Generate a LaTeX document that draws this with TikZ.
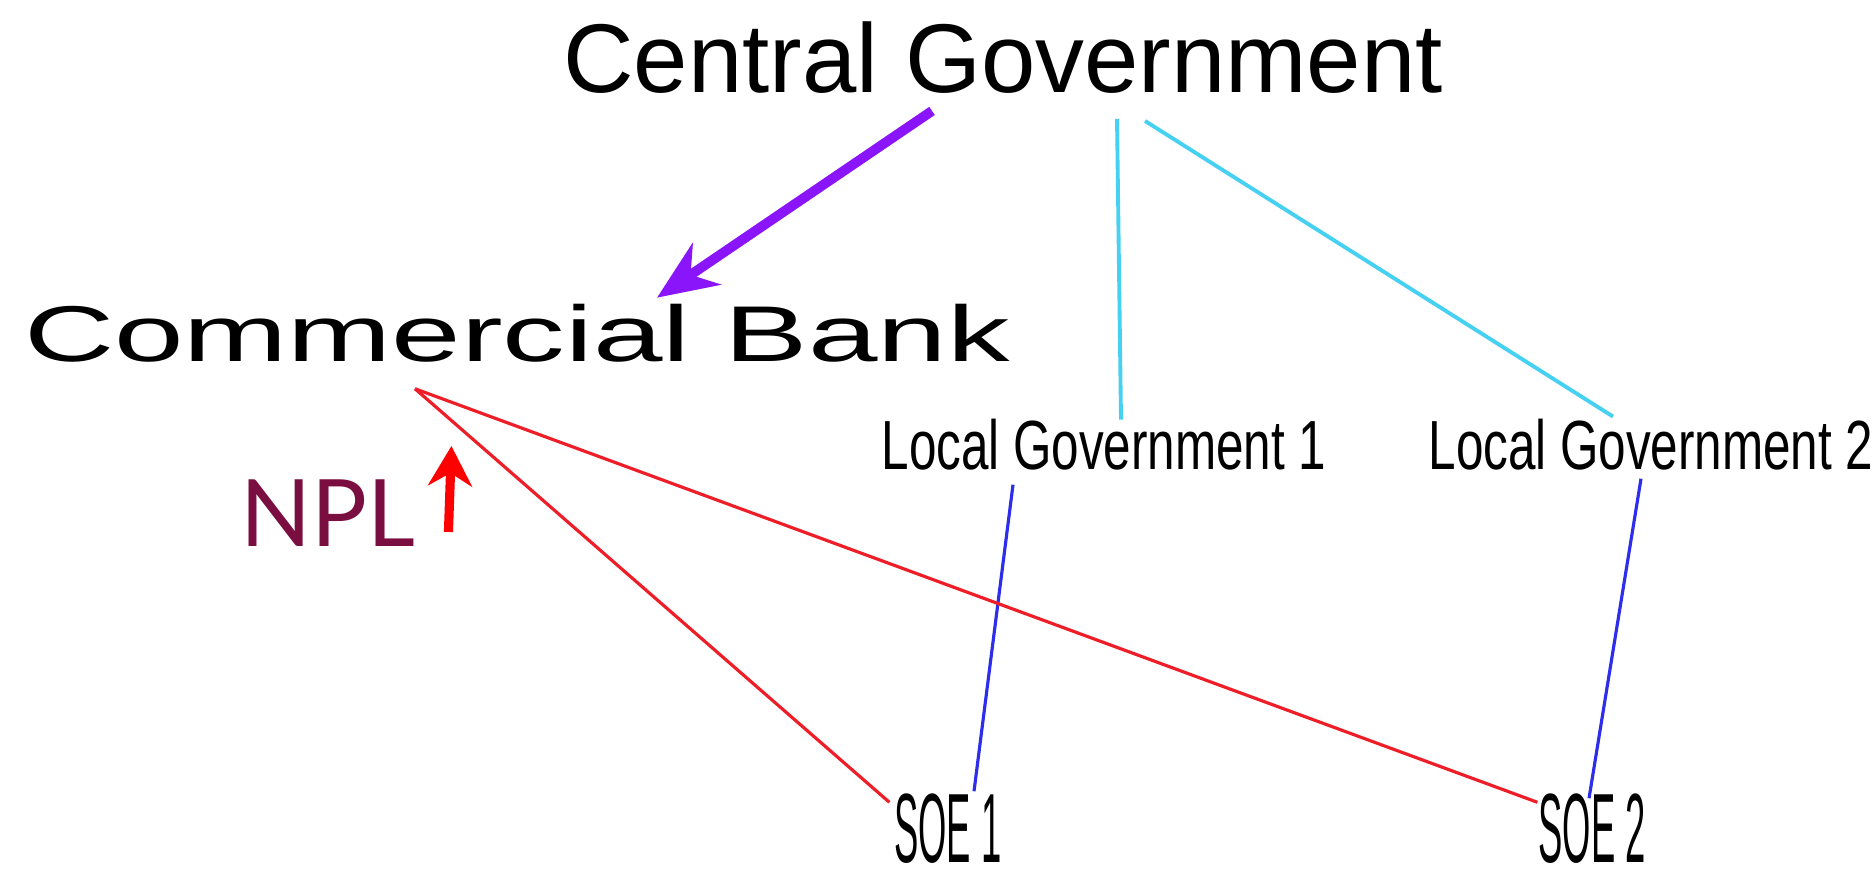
\documentclass[tikz,border=0pt]{standalone}
\usepackage{fontspec}
\setmainfont{Liberation Sans}
\newfontfamily\nplfont{Lato}
\usetikzlibrary{arrows.meta}
\definecolor{GovViolet}{RGB}{138,20,250}
\definecolor{LinkCyan}{RGB}{70,208,242}
\definecolor{LinkBlue}{RGB}{45,45,235}
\definecolor{LoanRed}{RGB}{238,30,40}
\definecolor{NplMaroon}{RGB}{122,14,64}
\tikzset{
  txt/.style={inner sep=0pt,outer sep=0pt,anchor=base},
  central/.style={txt,font=\fontsize{27.8}{33}\selectfont},
  bank/.style={txt,xscale=1.58,font=\fontsize{22.5}{27}\selectfont},
  localgov/.style={txt,xscale=0.71,font=\fontsize{19.8}{23}\selectfont},
  soe/.style={txt,xscale=0.37,font=\fontsize{28}{33}\selectfont},
  npltext/.style={txt,text=NplMaroon,font=\nplfont\fontsize{26.5}{31}\selectfont},
  control/.style={-{Stealth[length=6mm,width=5mm]},line width=2.8pt,GovViolet},
  tie/.style={line width=1.1pt,LinkCyan},
  own/.style={line width=0.9pt,LinkBlue},
  loan/.style={line width=0.9pt,LoanRed},
  rise/.style={-{Stealth[length=4mm,width=4.4mm]},line width=2.6pt,red}
}

\begin{document}
\begin{tikzpicture}
  \useasboundingbox (0,0) rectangle (18.74,8.81);
  \node[central] (cg) at (10.03,7.88) {Central Government};
  \node[bank] (cb) at (5.17,5.19) {Commercial Bank};
  \node[localgov] (lg1) at (11.04,4.11) {Local Government 1};
  \node[localgov] (lg2) at (16.51,4.11) {Local Government 2};
  \node[soe] (soe1) at (9.48,0.18) {SOE 1};
  \node[soe] (soe2) at (15.92,0.18) {SOE 2};
  \node[npltext] (npl) at (3.28,3.34) {NPL};
  \coordinate (lender) at ([shift={(-1.02,-0.26)}]cb.south);

  \draw[control] ([shift={(-0.71,-0.17)}]cg.south) -- ([shift={(1.40,0.07)}]cb.north);
  \draw[tie] ([shift={(1.14,-0.25)}]cg.south) -- ([shift={(0.17,0)}]lg1.north);
  \draw[tie] ([shift={(1.42,-0.27)}]cg.south) -- ([shift={(-0.38,0.03)}]lg2.north);
  \draw[own] ([shift={(-0.91,-0.14)}]lg1.south) -- ([shift={(0.26,0.03)}]soe1.north);
  \draw[own] ([shift={(-0.10,-0.08)}]lg2.south) -- ([shift={(-0.03,-0.04)}]soe2.north);
  \draw[loan] (lender) -- ([shift={(-0.05,-0.08)}]soe1.north west);
  \draw[loan] (lender) -- ([shift={(-0.01,-0.08)}]soe2.north west);
  \draw[rise] ([shift={(0.33,0.15)}]npl.base east) -- ++(0.03,0.86);
\end{tikzpicture}
\end{document}
